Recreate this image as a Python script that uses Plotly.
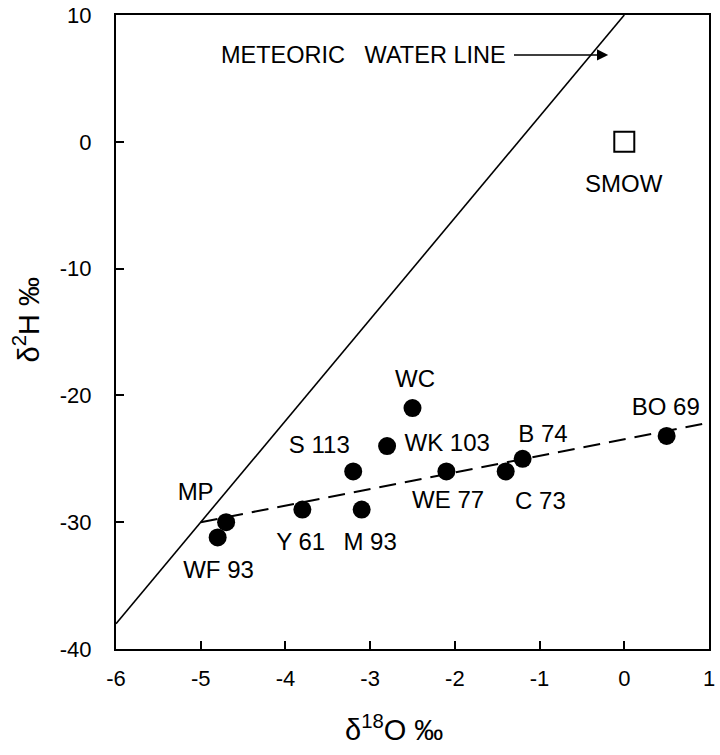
import plotly.graph_objects as go

# Data
sites = ["WF 93", "MP", "Y 61", "M 93", "S 113", "WK 103", "WC", "WE 77", "C 73", "B 74", "BO 69"]
d18O = [-4.8, -4.7, -3.8, -3.1, -3.2, -2.8, -2.5, -2.1, -1.4, -1.2, 0.5]
d2H = [-31.2, -30.0, -29.0, -29.0, -26.0, -24.0, -21.0, -26.0, -26.0, -25.0, -23.2]
label_x = [-4.79, -5.06, -3.82, -3.0, -3.6, -2.09, -2.47, -2.08, -0.99, -0.96, 0.49]
label_y = [-33.95, -27.75, -31.7, -31.7, -24.1, -23.9, -18.9, -28.4, -28.5, -23.2, -21.1]

smow_x = [0.0]
smow_y = [0.0]

mwl_x = [-6, 0]
mwl_y = [-38, 10]

fit_x = [-5, 1]
fit_y = [-30, -22.15]

x_ticks = [-6, -5, -4, -3, -2, -1, 0, 1]
x_ticktext = ["-6", "-5", "-4", "-3", "-2", "-1", "0", "1"]
y_ticks = [-40, -30, -20, -10, 0, 10]
y_ticktext = ["-40", "-30", "-20", "-10", "0", "10"]

FONT = "Liberation Sans, Arial, sans-serif"

fig = go.Figure()
fig.add_trace(go.Scatter(x=mwl_x, y=mwl_y, mode="lines",
                         line=dict(color="black", width=1.6), showlegend=False))
fig.add_trace(go.Scatter(x=fit_x, y=fit_y, mode="lines",
                         line=dict(color="black", width=2, dash="17px,9px"), showlegend=False))
fig.add_trace(go.Scatter(x=d18O, y=d2H, mode="markers",
                         marker=dict(color="black", size=18), showlegend=False))
fig.add_trace(go.Scatter(x=smow_x, y=smow_y, mode="markers",
                         marker=dict(symbol="square-open", color="black", size=20,
                                     line=dict(width=2, color="black")),
                         showlegend=False))
fig.add_trace(go.Scatter(x=label_x, y=label_y, mode="text", text=sites,
                         textfont=dict(family=FONT, size=24, color="black"),
                         showlegend=False))
fig.add_annotation(x=0.0, y=-3.27, text="SMOW", showarrow=False,
                   font=dict(family=FONT, size=24, color="black"))
fig.add_annotation(x=-1.37, y=6.85, xanchor="right",
                   text="METEORIC\u00a0\u00a0\u00a0WATER LINE", showarrow=False,
                   font=dict(family=FONT, size=23.5, color="black"))
fig.add_annotation(x=-0.19, y=6.85, ax=-1.32, ay=6.85, xref="x", yref="y",
                   axref="x", ayref="y", text="", showarrow=True,
                   arrowhead=2, arrowsize=1.4, arrowwidth=1.6, arrowcolor="black")

# Axis titles
fig.add_annotation(xref="paper", yref="paper", x=0.469, y=-0.1246,
                   xanchor="center", yanchor="middle", showarrow=False,
                   text="δ<sup>18</sup>O ‰", font=dict(family=FONT, size=29, color="black"))
fig.add_annotation(xref="paper", yref="paper", x=-0.151, y=0.519,
                   xanchor="center", yanchor="middle", showarrow=False, textangle=-90,
                   text="δ<sup>2</sup>H ‰", font=dict(family=FONT, size=29, color="black"))

fig.update_layout(
    width=720, height=755,
    margin=dict(l=116, r=11, t=15, b=106),
    plot_bgcolor="white", paper_bgcolor="white",
    font=dict(family=FONT, size=22, color="black"),
)
fig.update_xaxes(range=[-6, 1], tickvals=x_ticks, ticktext=x_ticktext,
                 ticks="inside", ticklen=8, tickwidth=1.5, tickcolor="black",
                 showline=True, linecolor="black", linewidth=2, mirror=True,
                 showgrid=False, zeroline=False, ticklabelstandoff=9, automargin=False)
fig.update_yaxes(range=[-40, 10], tickvals=y_ticks, ticktext=y_ticktext,
                 ticks="inside", ticklen=8, tickwidth=1.5, tickcolor="black",
                 showline=True, linecolor="black", linewidth=2, mirror=True,
                 showgrid=False, zeroline=False, ticklabelstandoff=18, automargin=False)

fig.write_html("out.html", config={"displayModeBar": False},
               post_script="document.body.style.margin='0';document.body.style.overflow='hidden';")
